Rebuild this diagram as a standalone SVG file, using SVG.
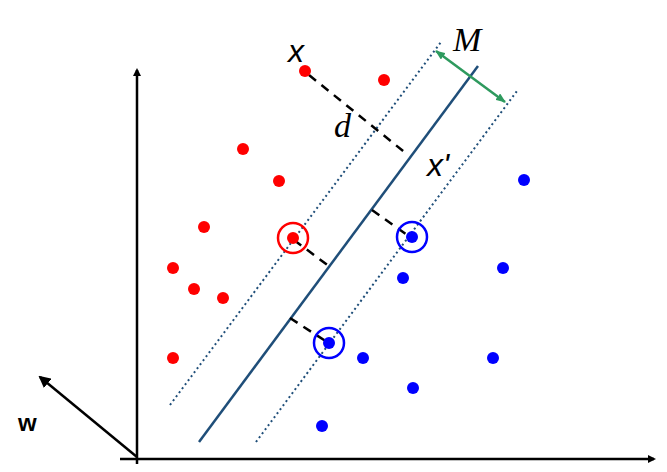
<svg xmlns="http://www.w3.org/2000/svg" width="667" height="472" viewBox="0 0 667 472">
<style>
.r{fill:#f00}.b{fill:#00f}.dash{stroke:#000;stroke-width:2.5;stroke-dasharray:9,7;fill:none}
.dot{stroke:#1f4e79;stroke-width:2;stroke-dasharray:2,3;fill:none}
.ax{stroke:#000;stroke-width:2.5;fill:none}
</style>
<defs>
<marker id="ah" markerWidth="8" markerHeight="8" refX="6" refY="4" orient="auto" markerUnits="userSpaceOnUse"><path d="M0,0L8,4L0,8z" fill="#000"/></marker>
<marker id="ah2" markerWidth="12" markerHeight="12" refX="10" refY="6" orient="auto" markerUnits="userSpaceOnUse"><path d="M0,0L12,6L0,12z" fill="#000"/></marker>
<marker id="ga" markerWidth="10" markerHeight="8" refX="9" refY="4" orient="auto-start-reverse" markerUnits="userSpaceOnUse"><path d="M0,0L10,4L0,8z" fill="#2e9a5e"/></marker>
</defs>
<g id="connectors">
<line class="ax" x1="137" y1="464" x2="137" y2="70" marker-end="url(#ah)"/>
<line class="ax" x1="120" y1="459" x2="654" y2="459" marker-end="url(#ah)"/>
<line class="ax" x1="137" y1="457" x2="40" y2="377" marker-end="url(#ah2)"/>
<line x1="199" y1="442" x2="478" y2="66" stroke="#1f4e79" stroke-width="2.5"/>
<line class="dot" x1="170" y1="405" x2="441" y2="42"/>
<line class="dot" x1="256" y1="442" x2="517" y2="91"/>
<line x1="436" y1="51" x2="505" y2="102" stroke="#2e9a5e" stroke-width="2.5" marker-start="url(#ga)" marker-end="url(#ga)"/>
<line class="dash" x1="309" y1="75" x2="408" y2="155"/>
<line class="dash" x1="294" y1="240" x2="330" y2="267"/>
<line class="dash" x1="372" y1="210" x2="410" y2="237"/>
<line class="dash" x1="290" y1="318" x2="327" y2="342"/>
</g>
<g id="red">
<circle class="r" cx="305" cy="71" r="6"/><circle class="r" cx="384" cy="80" r="6"/>
<circle class="r" cx="243" cy="149" r="6"/><circle class="r" cx="279" cy="181" r="6"/>
<circle class="r" cx="204" cy="227" r="6"/><circle class="r" cx="293" cy="238" r="6"/>
<circle class="r" cx="173" cy="268" r="6"/><circle class="r" cx="194" cy="289" r="6"/>
<circle class="r" cx="223" cy="298" r="6"/><circle class="r" cx="173" cy="358" r="6"/>
<circle cx="293" cy="238" r="15" fill="none" stroke="#f00" stroke-width="2.5"/>
</g>
<g id="blue">
<circle class="b" cx="524" cy="180" r="6"/><circle class="b" cx="412" cy="237" r="6"/>
<circle class="b" cx="503" cy="268" r="6"/><circle class="b" cx="403" cy="278" r="6"/>
<circle class="b" cx="329" cy="343" r="6"/><circle class="b" cx="363" cy="358" r="6"/>
<circle class="b" cx="493" cy="358" r="6"/><circle class="b" cx="413" cy="388" r="6"/>
<circle class="b" cx="322" cy="426" r="6"/>
<circle cx="412" cy="237" r="15" fill="none" stroke="#00f" stroke-width="2.5"/>
<circle cx="329" cy="343" r="15" fill="none" stroke="#00f" stroke-width="2.5"/>
</g>
<g id="labels" font-family="Liberation Serif, serif" font-style="italic" font-size="34">
<text x="288" y="62" font-family="Liberation Sans, sans-serif" font-size="32">x</text>
<text x="334" y="137">d</text>
<text x="453" y="51">M</text>
<text x="427" y="176" font-family="Liberation Sans, sans-serif" font-size="32">x'</text>
<text x="18" y="431" font-family="Liberation Sans, sans-serif" font-style="normal" font-weight="bold" font-size="24">w</text>
</g>
</svg>
